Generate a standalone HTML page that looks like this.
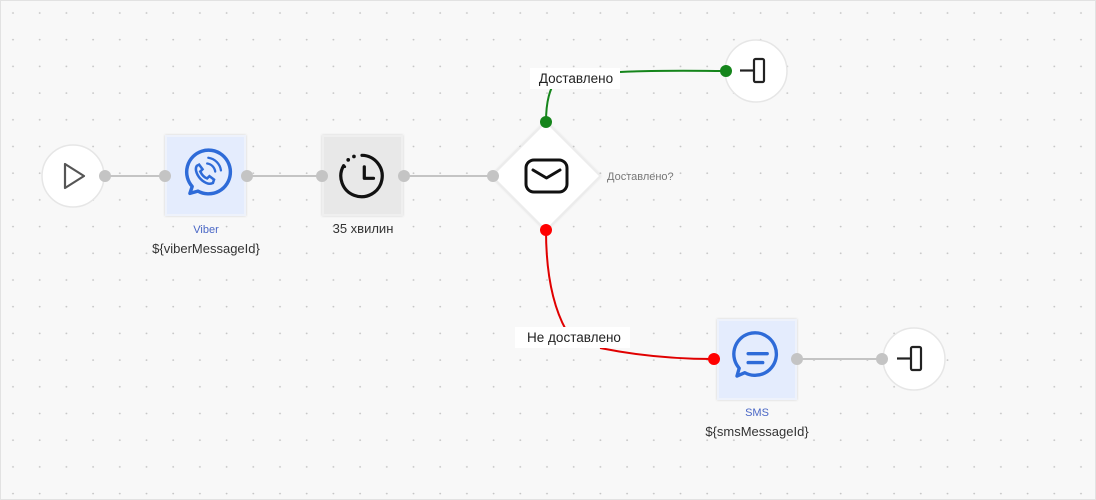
<!DOCTYPE html>
<html><head><meta charset="utf-8"><style>
html,body{margin:0;padding:0;background:#f8f8f8;}
svg{display:block;font-family:"Liberation Sans",sans-serif;}
</style></head><body>
<svg width="1096" height="500" viewBox="0 0 1096 500">
<defs>
<pattern id="g" width="26.7" height="26.7" patternUnits="userSpaceOnUse" x="0" y="0">
<circle cx="13" cy="13" r="0.9" fill="#c4c4c4"/>
</pattern>
<filter id="sh" x="-20%" y="-20%" width="140%" height="140%"><feDropShadow dx="0" dy="0" stdDeviation="1.2" flood-color="#000" flood-opacity="0.15"/></filter>
</defs>
<rect width="1096" height="500" fill="#f8f8f8"/>
<rect width="1096" height="500" fill="url(#g)"/>
<rect x="0.5" y="0.5" width="1095" height="499" fill="none" stroke="#e2e2e2"/>

<g stroke="#c4c4c4" stroke-width="2" fill="none">
<line x1="105" y1="176" x2="165" y2="176"/>
<line x1="247" y1="176" x2="322" y2="176"/>
<line x1="404" y1="176" x2="493" y2="176"/>
<line x1="797" y1="359" x2="882" y2="359"/>
</g>
<path d="M546 122 C546 100 550 90 556 78 M620 72 C660 70 700 71 726 71" stroke="#15851b" stroke-width="2" fill="none"/>
<path d="M546 230 C546 280 555 310 566 330 M600 348 C640 356 680 359 714 359" stroke="#e00000" stroke-width="2" fill="none"/>

<circle cx="73" cy="176" r="31" fill="#fff" stroke="#e6e6e6" stroke-width="1.5"/>
<path d="M65 164 L84 176 L65 188 Z" fill="none" stroke="#555" stroke-width="2.2" stroke-linejoin="round"/>

<rect x="166" y="136" width="79" height="79" fill="#e4ecfd" stroke="#eef2fb" stroke-width="2" filter="url(#sh)"/>
<g transform="translate(206,175) scale(1.15) translate(-206,-175)" stroke="#2e6bd8" stroke-width="3" fill="none" stroke-linecap="round">
<path d="M192 191 L194 185 A19 19 0 1 1 199 189 Z" stroke-linejoin="round"/>
<path d="M198 167 c-2 3 0 9 5 13 c4 3 7 3 9 2 l1-3 l-4-3 l-2 2 c-3-1-5-4-6-6 l2-2 l-3-4 Z" stroke-width="2.2"/>
<path d="M207 165 a8 8 0 0 1 7 7" stroke-width="2"/>
<path d="M208 160 a13 13 0 0 1 11 11" stroke-width="2"/>
</g>
<text x="206" y="233" fill="#4a67c6" font-size="11" text-anchor="middle">Viber</text>
<text x="206" y="253" fill="#333" font-size="13" text-anchor="middle">${viberMessageId}</text>

<rect x="323" y="136" width="79" height="79" fill="#e8e8e8" stroke="#efefef" stroke-width="2" filter="url(#sh)"/>
<g transform="translate(362,176) scale(1.15) translate(-362,-176)">
<path d="M362 158 A18 18 0 1 1 346 167" stroke="#111" stroke-width="2.8" fill="none" stroke-linecap="round"/>
<circle cx="350" cy="162" r="1.6" fill="#111"/><circle cx="355" cy="159" r="1.6" fill="#111"/><circle cx="347" cy="168" r="1.2" fill="#111"/>
<path d="M364 168 V178 H372" stroke="#111" stroke-width="2.8" fill="none" stroke-linecap="round" stroke-linejoin="round"/>
</g>
<text x="363" y="233" fill="#333" font-size="13" text-anchor="middle">35 хвилин</text>

<path d="M546 122 L600 176 L546 230 L492 176 Z" fill="#fff" stroke="#ececec" stroke-width="1.5" filter="url(#sh)"/>
<rect x="526" y="160" width="41" height="32" rx="8" fill="none" stroke="#111" stroke-width="3"/>
<path d="M533 170 L546.5 178 L560 170" fill="none" stroke="#111" stroke-width="3" stroke-linecap="round" stroke-linejoin="round"/>
<text x="607" y="180" fill="#777" font-size="11">Доставлено?</text>

<rect x="530" y="68" width="90" height="21" fill="#fff"/>
<text x="576" y="83" fill="#222" font-size="13.5" text-anchor="middle">Доставлено</text>
<rect x="515" y="327" width="115" height="21" fill="#fff"/>
<text x="574" y="342" fill="#222" font-size="13.5" text-anchor="middle">Не доставлено</text>

<circle cx="756" cy="71" r="31" fill="#fff" stroke="#e6e6e6" stroke-width="1.5"/>
<rect x="754" y="59" width="10" height="23" rx="1.5" fill="none" stroke="#222" stroke-width="2.2"/>
<line x1="740" y1="70.5" x2="754" y2="70.5" stroke="#222" stroke-width="2.2"/>

<rect x="718" y="320" width="78" height="79" fill="#e4ecfd" stroke="#eef2fb" stroke-width="2" filter="url(#sh)"/>
<g transform="translate(756,357) scale(1.12) translate(-756,-357)">
<path d="M739 374 L741 367 A19 19 0 1 1 746 371 Z" stroke="#2e6bd8" stroke-width="3" fill="none" stroke-linejoin="round"/>
<line x1="749" y1="354" x2="766" y2="354" stroke="#2e6bd8" stroke-width="3" stroke-linecap="round"/>
<line x1="749" y1="362" x2="762" y2="362" stroke="#2e6bd8" stroke-width="3" stroke-linecap="round"/>
</g>
<text x="757" y="416" fill="#4a67c6" font-size="11" text-anchor="middle">SMS</text>
<text x="757" y="436" fill="#333" font-size="13" text-anchor="middle">${smsMessageId}</text>

<circle cx="914" cy="359" r="31" fill="#fff" stroke="#e6e6e6" stroke-width="1.5"/>
<rect x="911" y="347" width="10" height="23" rx="1.5" fill="none" stroke="#222" stroke-width="2.2"/>
<line x1="897" y1="358.5" x2="911" y2="358.5" stroke="#222" stroke-width="2.2"/>

<g fill="#c4c4c4">
<circle cx="105" cy="176" r="6"/><circle cx="165" cy="176" r="6"/>
<circle cx="247" cy="176" r="6"/><circle cx="322" cy="176" r="6"/>
<circle cx="404" cy="176" r="6"/><circle cx="493" cy="176" r="6"/>
<circle cx="797" cy="359" r="6"/><circle cx="882" cy="359" r="6"/>
</g>
<circle cx="546" cy="122" r="6" fill="#15851b"/>
<circle cx="726" cy="71" r="6" fill="#15851b"/>
<circle cx="546" cy="230" r="6" fill="#f00"/>
<circle cx="714" cy="359" r="6" fill="#f00"/>
</svg>
</body></html>
